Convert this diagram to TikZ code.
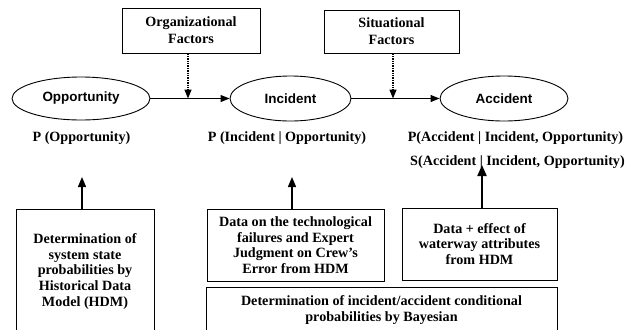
\documentclass[tikz,border=0pt]{standalone}
\usepackage{fontspec}
\setmainfont{Liberation Serif}
\newfontfamily\ellfont{Liberation Sans}
\usetikzlibrary{arrows.meta,shapes.geometric}
\begin{document}
\begin{tikzpicture}[x=1bp,y=-1bp,
  txt/.style={font=\bfseries\fontsize{14.2}{15.6}\selectfont, align=center, inner sep=0pt},
  boxn/.style={txt, draw, line width=0.9bp},
  ell/.style={ellipse, draw, line width=0.9bp, inner sep=0pt, font=\ellfont\bfseries\fontsize{13.5}{15}\selectfont},
  flow/.style={line width=1bp, -{Triangle[length=9bp,width=7bp]}},
  dotarr/.style={line width=1.4bp, densely dotted, -{Triangle[length=9bp,width=7bp]}},
  uparr/.style={line width=1.4bp, -{Triangle[length=10bp,width=8bp]}},
  uparrb/.style={line width=2bp, -{Triangle[length=11bp,width=9bp]}},
]
\path[use as bounding box, clip] (0,0) rectangle (636,329);
\fill[white] (0,0) rectangle (636,329);

% ellipses
\node[ell, minimum width=138bp, minimum height=43bp] (opp) at (81,98.5) {Opportunity};
\node[ell, minimum width=121bp, minimum height=45bp] (inc) at (290.5,98.5) {Incident};
\node[ell, minimum width=128bp, minimum height=45bp] (acc) at (504,98.5) {Accident};
\draw[flow] (opp.east) -- (inc.west);
\draw[flow] (inc.east) -- (acc.west);

% factor boxes
\node[boxn, minimum width=138bp, minimum height=45bp] (org) at (191,30.5) {Organizational\\[1.5bp]Factors};
\node[boxn, minimum width=135bp, minimum height=43bp] (sit) at (391.5,31.5) {Situational\\[1.5bp]Factors};
\coordinate (m1) at (188,98.5);
\coordinate (m2) at (393,98.5);
\draw[dotarr] (org.south -| m1) -- (m1);
\draw[dotarr] (sit.south -| m2) -- (m2);

% probability labels
\node[txt] (popp) at (81.5,138) {P (Opportunity)};
\node[txt] (pinc) at (287,138) {P (Incident | Opportunity)};
\node[txt] (pacc) at (515.5,138) {P(Accident | Incident, Opportunity)};
\node[txt] (sacc) at (517.5,162) {S(Accident | Incident, Opportunity)};

% data boxes
\node[boxn, minimum width=138bp, minimum height=124bp, anchor=north] (hdm) at (85,209) {Determination of\\system state\\probabilities by\\Historical Data\\Model (HDM)};
\node[boxn, minimum width=177bp, minimum height=72bp] (dtech) at (295.5,245) {Data on the technological\\failures and Expert\\Judgment on Crew’s\\Error from HDM};
\node[boxn, minimum width=155bp, minimum height=72bp] (deff) at (479.5,244) {Data + effect of\\waterway attributes\\from HDM};
\node[boxn, minimum width=351bp, minimum height=46bp] (bay) at (381.5,310) {Determination of incident/accident conditional\\probabilities by Bayesian};

% upward arrows
\coordinate (u1) at (82,177);
\coordinate (u2) at (292,177);
\coordinate (u3) at (482,165);
\draw[uparr] (hdm.north -| u1) -- (u1);
\draw[uparr] (dtech.north -| u2) -- (u2);
\draw[uparrb] (deff.north -| u3) -- (u3);
\end{tikzpicture}
\end{document}
